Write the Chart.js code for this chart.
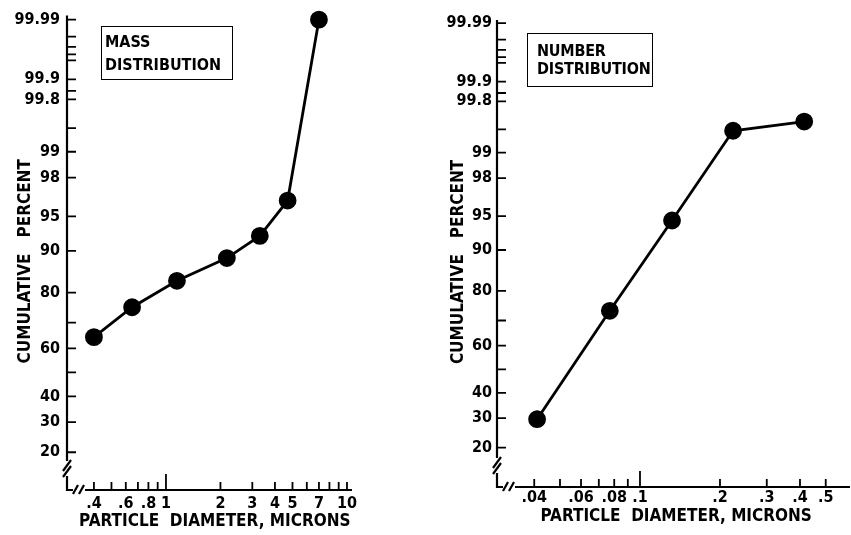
<!DOCTYPE html>
<html><head><meta charset="utf-8">
<script src="https://cdn.jsdelivr.net/npm/chart.js@4.4.0/dist/chart.umd.min.js"></script>
<style>
html,body{margin:0;padding:0;background:#fff;}
#wrap{position:relative;width:851px;height:535px;overflow:hidden;background:#fff;}
.cv{position:absolute;top:0;height:535px;}
.box{position:absolute;border:1.5px solid #000;box-sizing:border-box;font:bold 16px 'DejaVu Sans Condensed','DejaVu Sans',sans-serif;color:#000;white-space:nowrap;}
</style></head><body>
<div id="wrap">
 <div class="cv" style="left:0;width:425px"><canvas id="c1"></canvas></div>
 <div class="cv" style="left:425px;width:426px"><canvas id="c2"></canvas></div>
 <div class="box" style="left:101px;top:26px;width:132px;height:54px;padding:3px 0 0 3px;line-height:23px">MASS<br>DISTRIBUTION</div>
 <div class="box" style="left:527px;top:33px;width:126px;height:54px;padding:8px 0 0 9px;line-height:18px;letter-spacing:-0.2px">NUMBER<br>DISTRIBUTION</div>
</div>
<script>
// ---- data ----
const massDiameter = [0.4, 0.65, 1.15, 2.17, 3.3, 4.7, 7.0];
const massPercent  = [64.5, 75.4, 83.3, 88.6, 92.5, 96.5, 99.99];
const numberDiameter = [0.041, 0.077, 0.132, 0.224, 0.415];
const numberPercent  = [29.6, 73.5, 94.5, 99.48, 99.61];

const percentTicks  = [20, 30, 40, 50, 60, 70, 80, 90, 95, 98, 99, 99.5, 99.8, 99.85, 99.9, 99.95, 99.96, 99.97, 99.98, 99.99];
const percentLabels = ['20','30','40','','60','','80','90','95','98','99','','99.8','','99.9','','','','','99.99'];
const massTicks  = [0.4,0.5,0.6,0.7,0.8,0.9,1,2,3,4,5,6,7,8,9,10];
const massLabels = ['.4','','.6','','.8','','1','2','3','4','5','','7','','','10'];
const numberTicks  = [0.04,0.05,0.06,0.07,0.08,0.09,0.1,0.2,0.3,0.4,0.5];
const numberLabels = ['.04','','.06','','.08','','.1','.2','.3','.4','.5'];

// ---- normal probability scale ----
function probit(p){
  const a=[-3.969683028665376e+01,2.209460984245205e+02,-2.759285104469687e+02,1.383577518672690e+02,-3.066479806614716e+01,2.506628277459239e+00];
  const b=[-5.447609879822406e+01,1.615858368580409e+02,-1.556989798598866e+02,6.680131188771972e+01,-1.328068155288572e+01];
  const c=[-7.784894002430293e-03,-3.223964580411365e-01,-2.400758277161838e+00,-2.549732539343734e+00,4.374664141464968e+00,2.938163982698783e+00];
  const d=[7.784695709041462e-03,3.224671290700398e-01,2.445134137142996e+00,3.754408661907416e+00];
  const pl=0.02425, ph=1-pl; let q,r;
  if(p<pl){q=Math.sqrt(-2*Math.log(p));return (((((c[0]*q+c[1])*q+c[2])*q+c[3])*q+c[4])*q+c[5])/((((d[0]*q+d[1])*q+d[2])*q+d[3])*q+1);}
  if(p<=ph){q=p-0.5;r=q*q;return (((((a[0]*r+a[1])*r+a[2])*r+a[3])*r+a[4])*r+a[5])*q/(((((b[0]*r+b[1])*r+b[2])*r+b[3])*r+b[4])*r+1);}
  q=Math.sqrt(-2*Math.log(1-p));return -(((((c[0]*q+c[1])*q+c[2])*q+c[3])*q+c[4])*q+c[5])/((((d[0]*q+d[1])*q+d[2])*q+d[3])*q+1);
}
function ncdf(z){const t=1/(1+0.2316419*Math.abs(z));const y=0.3989423*Math.exp(-z*z/2)*t*(0.3193815+t*(-0.3565638+t*(1.781478+t*(-1.821256+t*1.330274))));return z>0?1-y:y;}

class ProbScale extends Chart.Scale {
  static id = 'probability';
  static defaults = {};
  determineDataLimits(){ this.min = this.options.min; this.max = this.options.max; }
  buildTicks(){ return []; }
  getLabelForValue(v){ return '' + v; }
  configure(){ super.configure(); this._zmin = probit(this.min/100); this._zrange = probit(this.max/100) - this._zmin; }
  getPixelForValue(v){ return this.getPixelForDecimal((probit(v/100) - this._zmin) / this._zrange); }
  getValueForPixel(p){ return 100 * ncdf(this._zmin + this.getDecimalForPixel(p) * this._zrange); }
}
Chart.register(ProbScale);

const FONT = "'DejaVu Sans Condensed','DejaVu Sans',sans-serif";

const decoPlugin = {
  id: 'deco',
  afterDraw(chart, args, o){
    const {ctx, chartArea:a} = chart; const xs = chart.scales.x, ys = chart.scales.y;
    const L = a.left, B = a.bottom;
    ctx.save(); ctx.strokeStyle = '#000'; ctx.lineWidth = 2.2;
    ctx.beginPath();
    ctx.moveTo(L, a.top - 1); ctx.lineTo(L, B - 29);
    ctx.moveTo(L, B - 14); ctx.lineTo(L, B);
    ctx.lineTo(L + 6, B);
    ctx.moveTo(L + 18, B); ctx.lineTo(a.right, B);
    ctx.stroke();
    ctx.beginPath();
    ctx.moveTo(L - 4, B - 19); ctx.lineTo(L + 4, B - 30);
    ctx.moveTo(L - 4, B - 13); ctx.lineTo(L + 4, B - 24);
    ctx.moveTo(L + 6, B + 4); ctx.lineTo(L + 11, B - 5);
    ctx.moveTo(L + 12, B + 4); ctx.lineTo(L + 17, B - 5);
    ctx.stroke();
    ctx.lineWidth = 1.8; ctx.beginPath();
    ys.ticks.forEach((t, i) => { const y = ys.getPixelForTick(i); ctx.moveTo(L, y); ctx.lineTo(L + 9, y); });
    xs.ticks.forEach((t, i) => { const x = xs.getPixelForTick(i); const len = o.longX === t.value ? 16 : 8; ctx.moveTo(x, B); ctx.lineTo(x, B - len); });
    ctx.stroke();
    ctx.restore();
  }
};

function makeChart(id, xs, ys, cfg){
  return new Chart(document.getElementById(id), {
    type: 'line',
    data: { datasets: [{ data: xs.map((x, i) => ({x, y: ys[i]})), borderColor: '#000', borderWidth: 2.8,
      pointRadius: 7.5, pointBackgroundColor: '#000', pointBorderColor: '#000', tension: 0, clip: false }] },
    options: {
      responsive: true, maintainAspectRatio: false, animation: false, events: [],
      layout: { padding: cfg.padding, autoPadding: false },
      plugins: { legend: {display: false}, tooltip: {enabled: false}, deco: { longX: cfg.longX } },
      scales: {
        x: { type: 'logarithmic', min: cfg.xmin, max: cfg.xmax,
          afterBuildTicks: s => { s.ticks = cfg.xTicks.map(v => ({value: v})); },
          afterFit: s => { s.height = cfg.xHeight; },
          grid: {display: false, drawTicks: false}, border: {display: false},
          ticks: { autoSkip: false, maxRotation: 0, minRotation: 0, padding: cfg.xPad, color: '#000',
            font: {family: FONT, weight: 'bold', size: 16}, callback: (v, i) => cfg.xLabels[i] },
          title: { display: true, text: cfg.xTitle, color: '#000',
            font: {family: FONT, weight: 'bold', size: 17}, padding: {top: 0, bottom: cfg.xTitlePad} } },
        y: { type: 'probability', min: cfg.ymin, max: cfg.ymax,
          afterBuildTicks: s => { s.ticks = percentTicks.map(v => ({value: v})); },
          afterFit: s => { s.width = cfg.yWidth; },
          grid: {display: false, drawTicks: false}, border: {display: false},
          ticks: { autoSkip: false, padding: cfg.yPad, color: '#000',
            font: {family: FONT, weight: 'bold', size: 16}, callback: (v, i) => percentLabels[i] },
          title: { display: true, text: 'CUMULATIVE   PERCENT   ', color: '#000',
            font: {family: FONT, weight: 'bold', size: 17}, padding: {top: cfg.yTitlePad, bottom: 0} } }
      }
    },
    plugins: [decoPlugin]
  });
}

makeChart('c1', massDiameter, massPercent, {
  padding: {top: 15, right: 73, left: 0, bottom: 0},
  xmin: 0.284, xmax: 10.66, xTicks: massTicks, xLabels: massLabels, longX: 1,
  xHeight: 45, xPad: 4, xTitlePad: 3, xTitle: '  PARTICLE  DIAMETER, MICRONS',
  ymin: 10.76, ymax: 99.9912, yWidth: 67, yPad: 7, yTitlePad: 15
});
makeChart('c2', numberDiameter, numberPercent, {
  padding: {top: 21, right: 1, left: 0, bottom: 0},
  xmin: 0.02897, xmax: 0.617, xTicks: numberTicks, xLabels: numberLabels, longX: 0.1,
  xHeight: 48, xPad: 1, xTitlePad: 8, xTitle: ' PARTICLE  DIAMETER, MICRONS',
  ymin: 10.31, ymax: 99.99083, yWidth: 72, yPad: 5, yTitlePad: 23
});
</script>
</body></html>
